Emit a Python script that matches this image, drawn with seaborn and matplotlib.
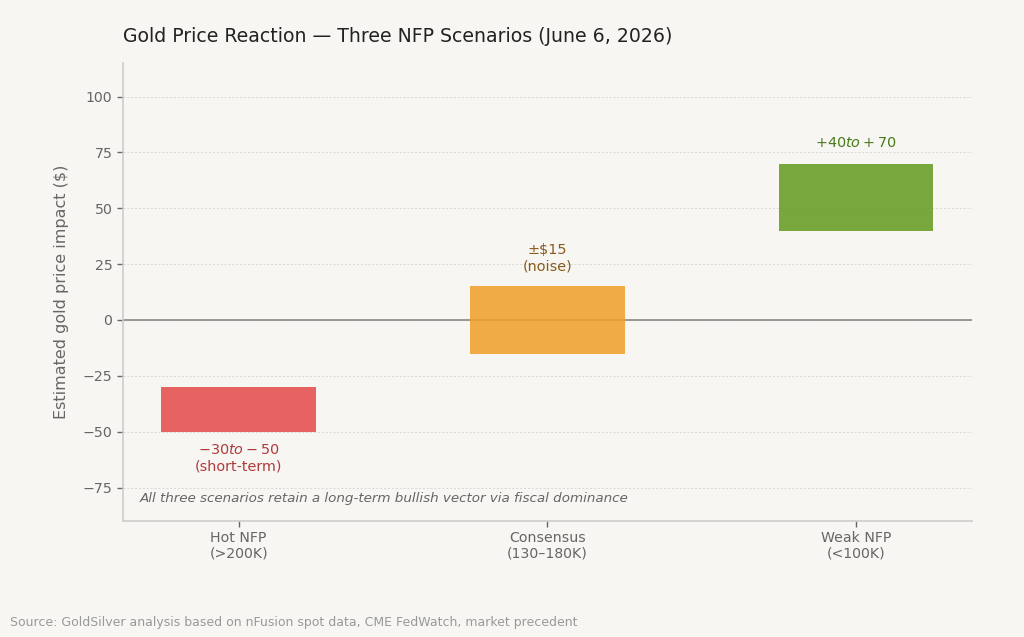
import matplotlib
matplotlib.use("Agg")
import matplotlib.pyplot as plt
import seaborn as sns

# ==========================================
# DATA
# ==========================================
scenarios = ["Hot NFP\n(>200K)", "Consensus\n(130–180K)", "Weak NFP\n(<100K)"]
low_vals = [-50, -15, 40]
high_vals = [-30, 15, 70]
bar_colors = ["#e44949", "#ef9e26", "#629a1e"]
text_colors = ["#b03a3a", "#8a5a1a", "#4a7a1a"]
impact_labels = ["\u2212$30 to \u2212$50\n(short-term)", "±$15\n(noise)", "+$40 to +$70"]
y_ticks = [-75, -50, -25, 0, 25, 50, 75, 100]

BG = "#f7f6f3"

sns.set_theme(style="white")
plt.rcParams['font.family'] = ['DejaVu Sans']

fig, ax = plt.subplots(figsize=(10.24, 6.37), dpi=100)
fig.patch.set_facecolor(BG)
ax.set_facecolor(BG)

spans = [h - l for l, h in zip(low_vals, high_vals)]

# grid + zero line below bars
for t in y_ticks:
    ax.axhline(t, color="#d8d8d4", lw=0.7, ls=(0, (2, 2)), zorder=0)
ax.axhline(0, color="#888888", lw=1.2, zorder=1)

sns.barplot(x=scenarios, y=spans, hue=scenarios, palette=bar_colors, saturation=1,
            width=0.5, alpha=0.85, legend=False, ax=ax, zorder=2)

# float each bar from its low value
for patch, lo in zip(ax.patches, low_vals):
    patch.set_y(lo)
    patch.set_edgecolor("none")

# labels
for i, (lo, hi) in enumerate(zip(low_vals, high_vals)):
    if hi < 0:
        ax.text(i, lo - 5, impact_labels[i], ha="center", va="top",
                fontsize=10.4, color=text_colors[i])
    else:
        ax.text(i, hi + 6, impact_labels[i], ha="center", va="bottom",
                fontsize=10.4, color=text_colors[i])

ax.text(-0.32, -80, "All three scenarios retain a long-term bullish vector via fiscal dominance",
        fontsize=9.7, style="italic", color="#666666", va="center")

ax.set_xlim(-0.375, 2.375)
ax.set_ylim(-90, 115)
ax.set_yticks(y_ticks)
ax.set_ylabel("Estimated gold price impact ($)", fontsize=11.5, color="#666666", labelpad=10)
ax.set_xlabel("")
ax.tick_params(axis="both", colors="#666666", labelsize=10.2, length=4, width=1,
               left=True, bottom=True)
ax.tick_params(axis="x", pad=3)

for s in ["top", "right"]:
    ax.spines[s].set_visible(False)
for s in ["left", "bottom"]:
    ax.spines[s].set_color("#cccccc")
    ax.spines[s].set_linewidth(1.2)

ax.set_title("Gold Price Reaction — Three NFP Scenarios (June 6, 2026)",
             loc="left", fontsize=13.6, color="#222222", pad=15)

fig.text(0.01, 0.017, "Source: GoldSilver analysis based on nFusion spot data, CME FedWatch, market precedent",
         fontsize=9, color="#999999")

plt.subplots_adjust(left=0.12, right=0.949, top=0.901, bottom=0.182)
plt.savefig("out.png", dpi=100, facecolor=BG)
